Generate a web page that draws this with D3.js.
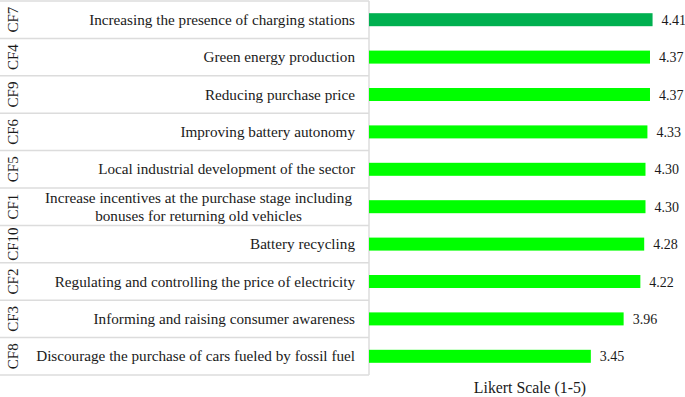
<!DOCTYPE html>
<html>
<head>
<meta charset="utf-8">
<script src="https://cdn.jsdelivr.net/npm/d3@7"></script>
<style>
  body { margin: 0; background: #fff; }
  svg { display: block; font-family: "Liberation Serif", serif; }
</style>
</head>
<body>
<svg id="chart" width="685" height="397"></svg>
<script>
// data, top row first
const codes = ["CF7", "CF4", "CF9", "CF6", "CF5", "CF1", "CF10", "CF2", "CF3", "CF8"];
const factors = [
  ["Increasing the presence of charging stations"],
  ["Green energy production"],
  ["Reducing purchase price"],
  ["Improving battery autonomy"],
  ["Local industrial development of the sector"],
  ["Increase incentives at the purchase stage including", "bonuses for returning old vehicles"],
  ["Battery recycling"],
  ["Regulating and controlling the price of electricity"],
  ["Informing and raising consumer awareness"],
  ["Discourage the purchase of cars fueled by fossil fuel"]
];
const scores = [4.41, 4.37, 4.37, 4.33, 4.30, 4.30, 4.28, 4.22, 3.96, 3.45];
const axis_title = "Likert Scale (1-5)";

// colours
let top_green = "#00b050";
let bright_green = "#00ff00";
let grid_grey = "#dcdcdc";
let ink = "#1a1a1a";

const svg = d3.select("#chart");

const table_right = 369;
const text_right = 355;

// rows of the table
const yScale = d3.scaleBand()
  .domain(codes)
  .range([1, 375]);

const xScale = d3.scaleLinear()
  .domain([0, 5])
  .range([table_right, table_right + 321.5]);

const bar_height = 13;

// table lines
const grid = svg.append("g");
grid.selectAll("line.row")
  .data(codes)
  .join("line")
  .attr("x1", 0)
  .attr("x2", table_right)
  .attr("y1", d => yScale(d) + yScale.bandwidth())
  .attr("y2", d => yScale(d) + yScale.bandwidth())
  .attr("stroke", grid_grey)
  .attr("stroke-width", 1.5);
grid.append("line")
  .attr("x1", 0).attr("x2", table_right)
  .attr("y1", yScale.range()[0]).attr("y2", yScale.range()[0])
  .attr("stroke", grid_grey).attr("stroke-width", 1.5);
grid.append("line")
  .attr("x1", table_right).attr("x2", table_right)
  .attr("y1", yScale.range()[0]).attr("y2", yScale.range()[1])
  .attr("stroke", grid_grey).attr("stroke-width", 1.5);

// rotated codes
svg.selectAll("text.code")
  .data(codes)
  .join("text")
  .attr("class", "code")
  .attr("transform", d => `translate(18, ${yScale(d) + yScale.bandwidth() / 2}) rotate(-90)`)
  .attr("text-anchor", "middle")
  .attr("font-size", 15)
  .attr("fill", ink)
  .text(d => d);

// factor descriptions, multi line ones centred as a block
codes.forEach(function(c, i) {
  const lines = factors[i];
  const g = svg.append("g");
  const line_gap = 18;
  const mid = yScale(c) + yScale.bandwidth() / 2;
  const texts = lines.map(function(l, j) {
    return g.append("text")
      .attr("y", mid + (j - (lines.length - 1) / 2) * line_gap + 5)
      .attr("font-size", 15.2)
      .attr("fill", ink)
      .text(l);
  });
  if (lines.length === 1) {
    texts[0].attr("x", text_right).attr("text-anchor", "end");
  } else {
    const widest = d3.max(texts, t => t.node().getComputedTextLength());
    texts.forEach(t => t.attr("x", text_right - 3 - widest / 2).attr("text-anchor", "middle"));
  }
});

// bars
svg.selectAll("rect.bar")
  .data(scores)
  .join("rect")
  .attr("class", "bar")
  .attr("x", xScale(0))
  .attr("y", (d, i) => yScale(codes[i]) + yScale.bandwidth() / 2 - bar_height / 2)
  .attr("width", d => xScale(d) - xScale(0))
  .attr("height", bar_height)
  .attr("fill", (d, i) => i === 0 ? top_green : bright_green);

// value labels
svg.selectAll("text.value")
  .data(scores)
  .join("text")
  .attr("class", "value")
  .attr("x", d => xScale(d) + 9)
  .attr("y", (d, i) => yScale(codes[i]) + yScale.bandwidth() / 2 + 5)
  .attr("font-size", 14)
  .attr("fill", ink)
  .text(d => d.toFixed(2));

// axis title
svg.append("text")
  .attr("x", 530)
  .attr("y", 393)
  .attr("text-anchor", "middle")
  .attr("font-size", 15.8)
  .attr("fill", ink)
  .text(axis_title);
</script>
</body>
</html>
